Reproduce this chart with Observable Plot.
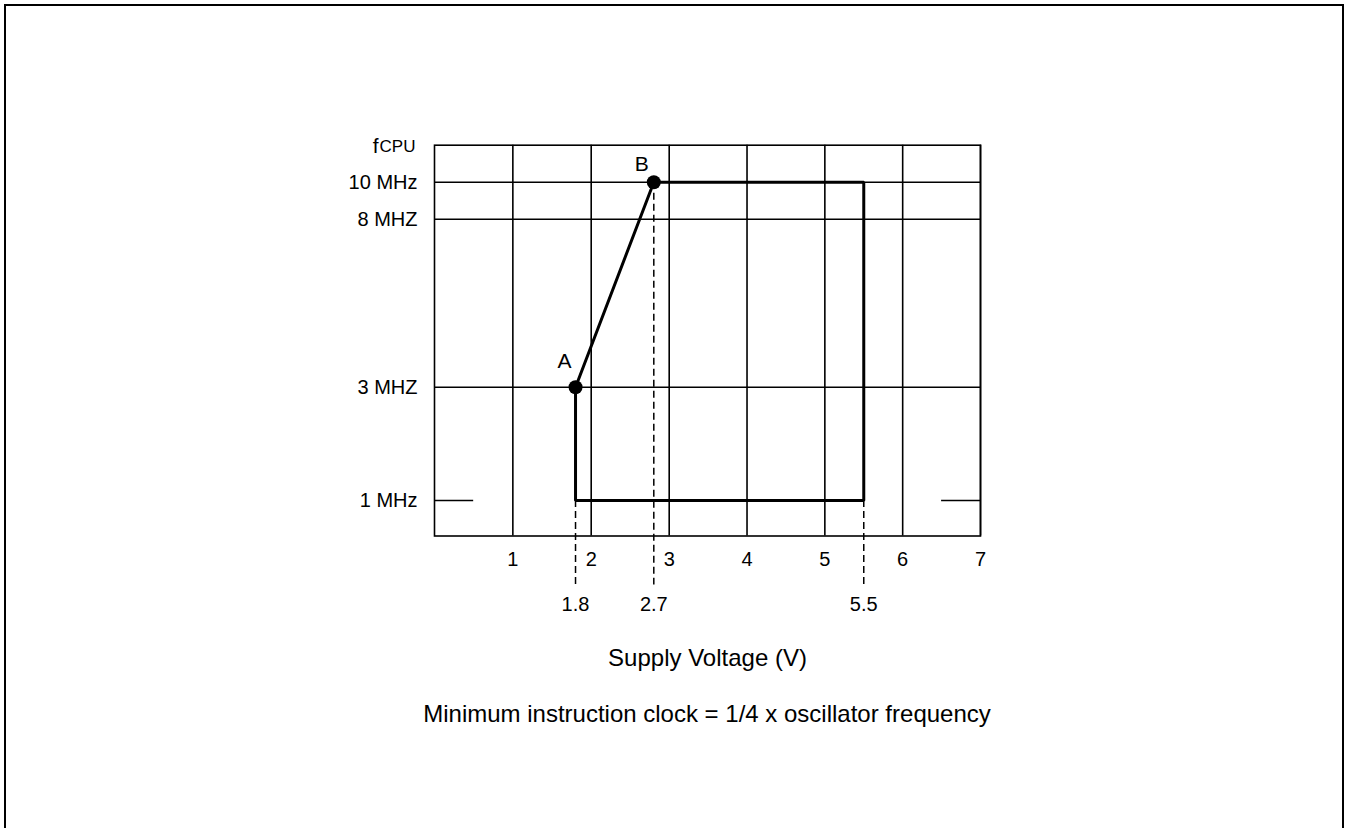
<!DOCTYPE html>
<html>
<head>
<meta charset="utf-8">
<script src="https://cdn.jsdelivr.net/npm/d3@7"></script>
<script src="https://cdn.jsdelivr.net/npm/@observablehq/plot@0.6"></script>
<style>
  body { margin: 0; background: #fff; }
  #page { position: relative; width: 1350px; height: 828px; overflow: hidden; font-family: "Liberation Sans", Arial, sans-serif; }
  #chart { position: absolute; left: 0; top: 0; width: 1350px; }
  #note { position: absolute; left: 207px; top: 699px; width: 1000px; text-align: center; font-size: 24px; line-height: 30px; color: #000; white-space: nowrap; }
  #border { position: absolute; left: 4px; top: 4px; width: 1336px; height: 900px; border: 2px solid #000; }
</style>
</head>
<body>
<div id="page">
  <div id="chart"></div>
  <div id="note"></div>
  <div id="border"></div>
</div>
<script>
// ---- data ----
const voltTicks = [1, 2, 3, 4, 5, 6, 7];
const freqGrid = [10, 8, 3];
const freqTicks = [10, 8, 3, 1];
const freqTickLabels = ["10 MHz", "8 MHZ", "3 MHZ", "1 MHz"];
const markVolts = [1.8, 2.7, 5.5];
const markVoltLabels = ["1.8", "2.7", "5.5"];
const dropVolts = [1.8, 2.7, 5.5];
const dropFreqs = [1, 10, 1];
const regionVolts = [1.8, 2.7, 5.5, 5.5, 1.8, 1.8];
const regionFreqs = [3, 10, 10, 1, 1, 3];
const pointNames = ["A", "B"];
const pointVolts = [1.8, 2.7];
const pointFreqs = [3, 10];
const oneMHzSegStart = [0, 6.5];
const oneMHzSegEnd = [0.5, 7];
const yAxisTitleMain = "f";
const yAxisTitleSub = "CPU";
const xAxisTitle = "Supply Voltage (V)";
const footnote = "Minimum instruction clock = 1/4 x oscillator frequency";

// ---- tables built from the arrays ----
const region = regionVolts.map((v, i) => ({v, f: regionFreqs[i]}));
const points = pointNames.map((n, i) => ({n, v: pointVolts[i], f: pointFreqs[i]}));
const drops = dropVolts.map((v, i) => ({v, f: dropFreqs[i]}));
const segs = oneMHzSegStart.map((s, i) => ({x1: s, x2: oneMHzSegEnd[i], f: 1}));

const W = 1350, H = 690;
const L = 434, R = 980, T = 144.7, B = 535.5;
const font = "'Liberation Sans', Arial, sans-serif";

const chart = Plot.plot({
  width: W,
  height: H,
  marginLeft: L,
  marginRight: W - R,
  marginTop: T,
  marginBottom: H - B,
  style: {fontFamily: font, background: "transparent", color: "#000"},
  x: {type: "linear", domain: [0, 2, 2.7, 3, 7], range: [L, 590.7, 653.3, 668.7, R], axis: null},
  y: {type: "linear", domain: [0, 1, 3, 8, 10, 11], range: [B, 500, 386.7, 218.7, 181.7, T], axis: null},
  marks: [
    Plot.ruleX(voltTicks, {x: d => d, stroke: "#000", strokeWidth: 1.6}),
    Plot.ruleY(freqGrid, {y: d => d, stroke: "#000", strokeWidth: 1.6}),
    Plot.ruleY(segs, {y: "f", x1: "x1", x2: "x2", stroke: "#000", strokeWidth: 1.6}),
    Plot.frame({stroke: "#000", strokeWidth: 1.6}),
    Plot.ruleX(drops, {x: "v", y1: "f", y2: () => 0, insetBottom: -49, stroke: "#000", strokeWidth: 1.5, strokeDasharray: "7,4"}),
    Plot.line(region, {x: "v", y: "f", stroke: "#000", strokeWidth: 3, strokeLinejoin: "miter"}),
    Plot.dot(points, {x: "v", y: "f", r: 7, fill: "#000", stroke: "none"}),
    Plot.text(points.filter(d => d.n === "A"), {x: "v", y: "f", text: "n", dx: -11, dy: -26, fontSize: 21, fill: "#000"}),
    Plot.text(points.filter(d => d.n === "B"), {x: "v", y: "f", text: "n", dx: -12, dy: -18, fontSize: 21, fill: "#000"}),
    Plot.text(voltTicks, {x: d => d, frameAnchor: "bottom", dy: 29.5, text: d => String(d), fontSize: 20, fill: "#000"}),
    Plot.text(markVolts, {x: d => d, frameAnchor: "bottom", dy: 75, text: (d, i) => markVoltLabels[i], fontSize: 20, fill: "#000"}),
    Plot.text(freqTicks, {y: d => d, frameAnchor: "left", textAnchor: "end", dx: -17, text: (d, i) => freqTickLabels[i], fontSize: 20, fill: "#000"}),
    Plot.text([yAxisTitleSub], {frameAnchor: "top-left", textAnchor: "end", dx: -19, dy: -5, text: d => d, fontSize: 17, fill: "#000"}),
    Plot.text([yAxisTitleMain], {frameAnchor: "top-left", textAnchor: "end", dx: -56, dy: -7, text: d => d, fontSize: 21, fill: "#000"}),
    Plot.text([xAxisTitle], {frameAnchor: "bottom", dy: 130, text: d => d, fontSize: 24, fill: "#000"})
  ]
});
document.getElementById("chart").appendChild(chart);
document.getElementById("note").textContent = footnote;
</script>
</body>
</html>
